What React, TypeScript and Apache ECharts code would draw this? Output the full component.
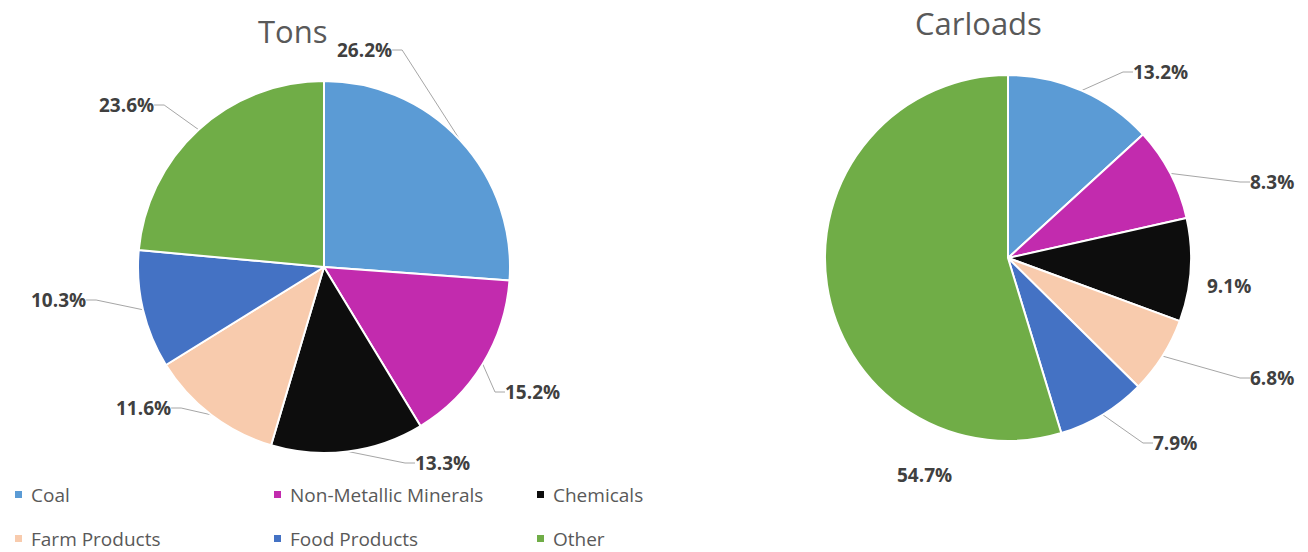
import React, { useEffect, useRef } from 'react';
import * as echarts from 'echarts';

const categories = ['Coal', 'Non-Metallic Minerals', 'Chemicals', 'Farm Products', 'Food Products', 'Other'];
const tonsShare = [26.2, 15.2, 13.3, 11.6, 10.3, 23.6];
const carloadsShare = [13.2, 8.3, 9.1, 6.8, 7.9, 54.7];
const chartTitles = ['Tons', 'Carloads'];
const legendColumns = [
  ['Coal', 'Farm Products'],
  ['Non-Metallic Minerals', 'Food Products'],
  ['Chemicals', 'Other'],
];

const COLORS = ['#5B9BD5', '#C22BAE', '#0D0D0D', '#F8CBAD', '#4472C4', '#70AD47'];
const FONT = '"Open Sans", "Noto Sans", sans-serif';

// label placement (left x, middle y) per slice for each pie
const LABEL_POS = [
  [[337, 50], [505, 392], [415, 463], [116, 408], [31, 300], [99, 105]],
  [[1133, 72], [1250, 182], [1207, 286], [1250, 378], [1153, 443], [897, 475]],
];
const NO_LINE = [[] as number[], [2, 5]];

function makePie(idx: number, values: number[], center: number[], radius: number) {
  return {
    type: 'pie',
    center,
    radius,
    startAngle: 90,
    clockwise: true,
    avoidLabelOverlap: false,
    silent: true,
    emphasis: { disabled: true },
    itemStyle: { borderColor: '#ffffff', borderWidth: 2 },
    label: {
      show: true,
      position: 'outside',
      formatter: (p: any) => Number(p.value).toFixed(1) + '%',
      fontFamily: FONT,
      fontSize: 19,
      fontWeight: 'bold',
      color: '#404040',
    },
    labelLine: { show: true, length: 10, length2: 10, lineStyle: { color: '#A6A6A6', width: 1 } },
    labelLayout: (params: any) => {
      const pos = LABEL_POS[idx][params.dataIndex];
      return { x: pos[0], y: pos[1], align: 'left', verticalAlign: 'middle' };
    },
    data: categories.map((name, i) => ({
      name,
      value: values[i],
      itemStyle: { color: COLORS[i] },
      labelLine: { show: NO_LINE[idx].indexOf(i) < 0 },
    })),
  };
}

export default function App() {
  const ref = useRef<HTMLDivElement>(null);
  useEffect(() => {
    if (!ref.current) return;
    const chart = echarts.init(ref.current, undefined, { renderer: 'svg' });
    const legendBase = {
      orient: 'vertical',
      top: 485,
      padding: 0,
      icon: 'rect',
      itemWidth: 9,
      itemHeight: 9,
      itemGap: 25,
      selectedMode: false,
      textStyle: { fontFamily: FONT, fontSize: 19, color: '#595959', padding: [0, 0, 0, 3] },
    };
    chart.setOption({
      animation: false,
      backgroundColor: '#ffffff',
      title: [
        { text: chartTitles[0], left: 253, top: 10, textStyle: { fontFamily: FONT, fontSize: 31, fontWeight: 'normal', color: '#595959' } },
        { text: chartTitles[1], left: 910, top: 2, textStyle: { fontFamily: FONT, fontSize: 31, fontWeight: 'normal', color: '#595959' } },
      ],
      legend: [
        { ...legendBase, left: 13, data: legendColumns[0] },
        { ...legendBase, left: 272, data: legendColumns[1] },
        { ...legendBase, left: 535, data: legendColumns[2] },
      ],
      series: [
        makePie(0, tonsShare, [324, 267], 186),
        makePie(1, carloadsShare, [1008, 258], 183),
      ],
    });
    return () => chart.dispose();
  }, []);
  return <div ref={ref} style={{ position: 'fixed', left: 0, top: 0, width: 1308, height: 552 }} />;
}
